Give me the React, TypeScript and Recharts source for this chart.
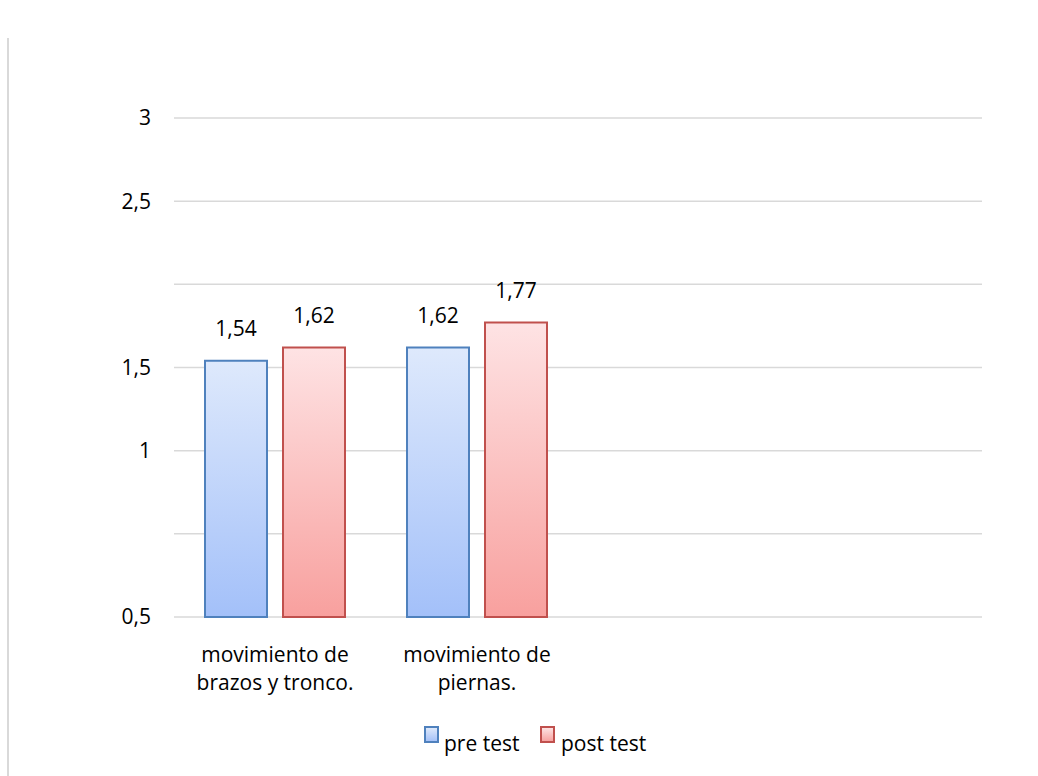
import { BarChart, Bar, XAxis, YAxis, CartesianGrid, Legend, LabelList } from 'recharts'

const FONT = '"Open Sans", sans-serif'

const categories = ['movimiento de brazos y tronco.', 'movimiento de piernas.', '', '']
const preTest = [1.54, 1.62, null, null]
const postTest = [1.62, 1.77, null, null]
const yTicks = [0, 0.5, 1, 1.5, 2, 2.5, 3]
const yTickLabels = ['0,5', '', '1', '1,5', '', '2,5', '3']
const seriesNames = ['pre test', 'post test']

const rows = categories.map((name, i) => ({ name, pre: preTest[i], post: postTest[i] }))

const fmt = (v: any) => (v == null ? '' : Number(v).toFixed(2).replace('.', ','))

// two-line category label, split after "de"
function CategoryTick({ x, y, payload }: any) {
  const label: string = payload?.value ?? ''
  if (!label) return null
  const idx = label.indexOf(' de ')
  const lines = idx >= 0 ? [label.slice(0, idx + 3), label.slice(idx + 4)] : [label]
  return (
    <text x={x} y={y} textAnchor="middle" fill="#000" fontSize={21} fontFamily={FONT}>
      {lines.map((l, i) => (
        <tspan key={i} x={x} dy={i === 0 ? 45 : 28}>{l}</tspan>
      ))}
    </text>
  )
}

function LegendBox() {
  const items = [
    { name: seriesNames[0], left: 424, textLeft: 444, grad: 'linear-gradient(#dde8fb, #a6c2f8)', border: '#4f81bd' },
    { name: seriesNames[1], left: 540, textLeft: 561, grad: 'linear-gradient(#fde2e2, #f7a3a1)', border: '#c0504d' },
  ]
  return (
    <div style={{ position: 'relative', width: 1038, height: 50, fontFamily: FONT, fontSize: 21 }}>
      {items.map(it => (
        <div key={it.name}>
          <div style={{
            position: 'absolute', left: it.left, top: 6, width: 11, height: 13,
            background: it.grad, border: `2px solid ${it.border}`,
          }} />
          <div style={{ position: 'absolute', left: it.textLeft, top: 9, lineHeight: '28px', color: '#000', whiteSpace: 'nowrap' }}>
            {it.name}
          </div>
        </div>
      ))}
    </div>
  )
}

export default function App() {
  return (
    <div style={{ position: 'absolute', left: 0, top: 0, width: 1038, height: 776, overflow: 'hidden', background: '#fff' }}>
      <div style={{ position: 'absolute', left: 7, top: 38, width: 2, height: 740, background: '#d9d9d9' }} />
      <BarChart
        width={1038}
        height={776}
        data={rows}
        margin={{ top: 118, right: 56, left: 0, bottom: 0 }}
        barSize={62}
        barGap={16}
        style={{ fontFamily: FONT }}
      >
        <defs>
          <linearGradient id="gradPre" x1="0" y1="0" x2="0" y2="1">
            <stop offset="0%" stopColor="#dee9fc" />
            <stop offset="100%" stopColor="#a3c0f9" />
          </linearGradient>
          <linearGradient id="gradPost" x1="0" y1="0" x2="0" y2="1">
            <stop offset="0%" stopColor="#fee3e4" />
            <stop offset="100%" stopColor="#f8a09e" />
          </linearGradient>
        </defs>
        <CartesianGrid vertical={false} stroke="#d9d9d9" strokeWidth={1.5} />
        <XAxis
          dataKey="name"
          height={159}
          axisLine={false}
          tickLine={false}
          tickSize={0}
          tickMargin={0}
          interval={0}
          tick={<CategoryTick />}
        />
        <YAxis
          width={174}
          domain={[0, 3]}
          ticks={yTicks}
          axisLine={false}
          tickLine={false}
          tickSize={6}
          tickMargin={17}
          tick={{ fill: '#000', fontSize: 21, fontFamily: FONT }}
          tickFormatter={(v: number) => yTickLabels[yTicks.indexOf(v)] ?? ''}
        />
        <Legend verticalAlign="middle" align="center" wrapperStyle={{ top: 720, left: 0 }} content={<LegendBox />} />
        <Bar dataKey="pre" name={seriesNames[0]} fill="url(#gradPre)" stroke="#4f81bd" strokeWidth={2} isAnimationActive={false}>
          <LabelList dataKey="pre" position="top" offset={25} formatter={fmt} fill="#000" fontSize={21} fontFamily={FONT} />
        </Bar>
        <Bar dataKey="post" name={seriesNames[1]} fill="url(#gradPost)" stroke="#c0504d" strokeWidth={2} isAnimationActive={false}>
          <LabelList dataKey="post" position="top" offset={25} formatter={fmt} fill="#000" fontSize={21} fontFamily={FONT} />
        </Bar>
      </BarChart>
    </div>
  )
}
